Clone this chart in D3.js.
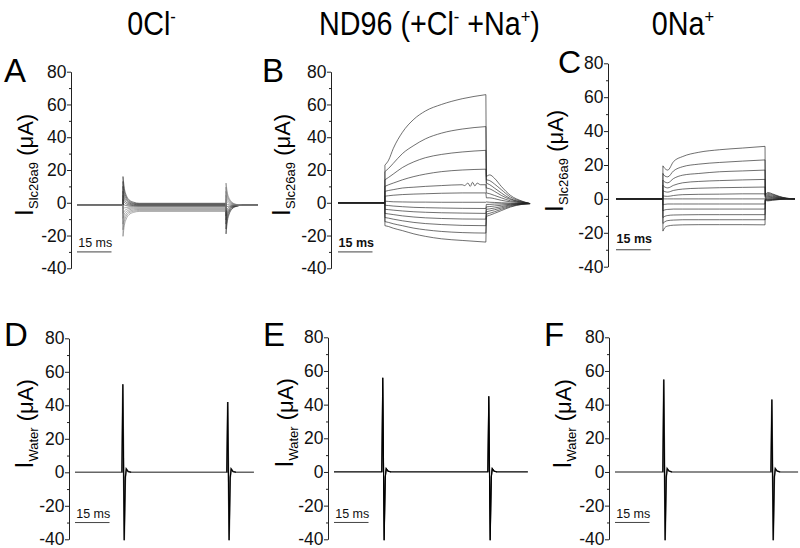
<!DOCTYPE html>
<html><head><meta charset="utf-8">
<script src="https://cdn.jsdelivr.net/npm/d3@7"></script>
<style>
body{margin:0;background:#fff}
svg{display:block}
text{font-family:"Liberation Sans",Arial,Helvetica,sans-serif}
</style>
</head><body>
<svg id="c" width="800" height="548"></svg>
<script>
// ---------------- DATA ----------------
const panelIds = ["A","B","C","D","E","F"];
const columnTitles = [
  [{t:"0Cl"},{t:"-",sup:true}],
  [{t:"ND96 (+Cl"},{t:"-",sup:true},{t:" +Na"},{t:"+",sup:true},{t:")"}],
  [{t:"0Na"},{t:"+",sup:true}]
];
const yLabelMain = "I";
const yLabelSubs = ["Slc26a9","Slc26a9","Slc26a9","Water","Water","Water"];
const yLabelUnit = " (\u03BCA)";
const yTickValues = [-40,-20,0,20,40,60,80];
const yMinorTickValues = [-30,-10,10,30,50,70];
const yDomain = [-40, 80];
const scaleBarMs = 15;
const scaleBarLevel = -30;
const scaleBarLabel = "15 ms";
// sweep protocol per panel (ms)
const sweepDuration = [78.7, 83.5, 77.8, 77.8, 84.3, 79.6];
const stepOnTime    = [20.0, 20.4, 20.4, 20.9, 21.3, 21.3];
const stepOffTime   = [64.8, 64.3, 64.8, 66.5, 67.4, 68.3];

// Panel A (0Cl-): capacitive transients, µA
const aHolding = -1.5;
const aDecayRelT = [0, 0.6, 1.4, 2.6, 4.5, 7];
const aOnDecay = [
  [16, 8.7, 4.6, 1.8, 0.4, -0.3],
  [13, 6.9, 3.5, 1.2, -0.1, -0.6],
  [10, 5.1, 2.4, 0.5, -0.5, -0.9],
  [7, 3.3, 1.3, -0.1, -0.9, -1.2],
  [4.5, 1.8, 0.3, -0.7, -1.3, -1.5],
  [2, 0.3, -0.7, -1.3, -1.7, -1.8],
  [-0.5, -1.3, -1.7, -2.0, -2.1, -2.2],
  [-3.5, -3.1, -2.9, -2.7, -2.6, -2.6],
  [-6.5, -5.0, -4.1, -3.5, -3.2, -3.1],
  [-9.5, -6.8, -5.4, -4.4, -3.8, -3.6],
  [-13, -9.0, -6.8, -5.3, -4.5, -4.1],
  [-16.5, -11.2, -8.2, -6.2, -5.2, -4.7],
  [-20.5, -13.7, -9.9, -7.3, -5.9, -5.3]
];
const aOffDecay = [
  [-19, -11.1, -6.8, -3.8, -2.2, -1.5],
  [-16, -9.5, -5.9, -3.4, -2.1, -1.5],
  [-13, -7.8, -5.0, -3.0, -2.0, -1.5],
  [-10.5, -6.5, -4.2, -2.7, -1.9, -1.5],
  [-8, -5.1, -3.5, -2.3, -1.8, -1.5],
  [-5.5, -3.7, -2.7, -2.0, -1.7, -1.5],
  [-3, -2.3, -2.0, -1.7, -1.6, -1.5],
  [-0.5, -1.0, -1.2, -1.4, -1.5, -1.5],
  [2, 0.4, -0.5, -1.0, -1.4, -1.5],
  [4.5, 1.8, 0.3, -0.7, -1.3, -1.5],
  [7, 3.2, 1.1, -0.4, -1.2, -1.5],
  [9.5, 4.6, 1.8, -0.1, -1.1, -1.5],
  [12, 5.9, 2.6, 0.3, -1.0, -1.5]
];

// Panel B (ND96)
const bPulseRelT = [0, 1.6, 3.6, 7.6, 12.6, 17.6, 24.6, 33.6, 43.9];
const bPulse = [
  [23, 26, 33, 43, 51, 56, 60, 63.5, 66],
  [19, 21, 24, 30, 35, 39, 42.5, 45, 46.5],
  [14, 15.5, 17.5, 21.5, 25, 27.5, 29.5, 31, 32],
  [10, 11, 12, 14, 16, 17.5, 19, 20, 20.5],
  [7, 7.5, 8, 9, 9.5, 10, 10.5, 11, 11],
  [4, 4.3, 4.6, 5, 5.3, 5.5, 5.8, 6, 6],
  [1, 0.8, 0.6, 0.5, 0.4, 0.4, 0.3, 0.3, 0.3],
  [-1.5, -1.7, -2, -2.4, -2.8, -3, -3.2, -3.4, -3.5],
  [-4, -4.2, -4.5, -5, -5.5, -5.8, -6.1, -6.3, -6.5],
  [-6.5, -6.8, -7.2, -8, -8.7, -9.2, -9.6, -9.9, -10],
  [-9, -9.4, -10, -11, -12, -12.7, -13.3, -13.8, -14],
  [-11.5, -12, -12.8, -14, -15.5, -16.5, -17.5, -18.2, -18.5],
  [-14, -14.5, -15.5, -17, -19, -20.5, -22, -23, -24]
];
const bNoiseTrace = 4;
const bNoiseRelT = [34.6, 36.1, 37.1, 38.1, 39.1, 40.1, 41.6];
const bNoiseV = [10.5, 12, 10, 12.5, 10.3, 12, 11];
const bTailRelT = [0.2, 1.7, 3.7, 6.7, 10.7, 15.7, 19.2];
const bTail = [
  [16, 17, 15, 10, 4.5, 1, -0.5],
  [14, 13.5, 11.5, 8, 3.5, 0.8, -0.5],
  [12, 11, 9, 6, 2.5, 0.5, -0.5],
  [9, 8.5, 7, 4.5, 2, 0.3, -0.5],
  [6, 5.5, 4.5, 3, 1.2, 0.2, -0.5],
  [3, 3, 2.5, 1.5, 0.6, 0, -0.5],
  [0.5, 0.3, 0.2, 0, -0.2, -0.4, -0.5],
  [-1, -1, -0.8, -0.7, -0.6, -0.5, -0.5],
  [-2.5, -2.3, -2, -1.5, -0.9, -0.6, -0.5],
  [-4, -3.7, -3.2, -2.4, -1.3, -0.7, -0.5],
  [-5.5, -5, -4.3, -3.2, -1.7, -0.8, -0.5],
  [-7, -6.4, -5.5, -4, -2.2, -0.9, -0.5],
  [-8.3, -7.6, -6.5, -4.8, -2.6, -1, -0.5]
];

// Panel C (0Na+)
const cPulseRelT = [0, 0.8, 2.1, 4.6, 8.6, 15.6, 24.6, 34.6, 44.4];
const cPulse = [
  [19.5, 18, 17, 22, 25, 27.5, 29, 30, 31],
  [15, 13.5, 13, 16.5, 19, 20.5, 21.5, 22.3, 23],
  [11, 10, 9.5, 12, 14, 15, 16, 16.5, 17],
  [8, 7, 6.5, 8, 9.5, 10.3, 10.8, 11.2, 11.5],
  [5, 4.3, 4, 5, 5.8, 6.3, 6.6, 6.8, 7],
  [2, 1.6, 1.5, 2, 2.5, 2.7, 2.8, 3, 3],
  [0, 0, 0, 0, 0, 0, 0, 0, 0],
  [-3.5, -3.2, -3, -3, -3, -3, -3, -3, -3],
  [-7, -6.5, -6.2, -6, -6, -6, -6, -6, -6],
  [-11, -10.3, -9.8, -9.5, -9.4, -9.3, -9.3, -9.3, -9.3],
  [-14.5, -13.5, -12.8, -12.5, -12.3, -12.3, -12.3, -12.3, -12.3],
  [-19, -17, -16, -15.5, -15.3, -15.2, -15.2, -15.2, -15.3]
];
const cTailRelT = [0.1, 1.2, 3.2, 6.2, 9.2, 13];
const cTail = [
  [2.5, 3.8, 3, 1.5, 0.5, 0],
  [2.2, 3.2, 2.6, 1.3, 0.4, 0],
  [1.8, 2.6, 2.1, 1.1, 0.3, 0],
  [1.4, 2, 1.6, 0.8, 0.3, 0],
  [1, 1.5, 1.2, 0.6, 0.2, 0],
  [0.6, 1, 0.8, 0.4, 0.1, 0],
  [0.3, 0.5, 0.4, 0.2, 0.1, 0],
  [0, 0, 0, 0, 0, 0],
  [-0.2, -0.3, -0.2, -0.1, 0, 0],
  [-0.4, -0.6, -0.4, -0.2, -0.1, 0],
  [-0.6, -0.9, -0.6, -0.3, -0.1, 0],
  [-0.8, -1.2, -0.8, -0.4, -0.1, 0]
];

// Panels D-F (water-injected): transient spikes at the steps
const spikeRelT = [-0.5, -0.1, 0.5, 1.0, 1.4, 2.2, 3.5];
const waterOnSpike = [
  [0, 52.5, -40.5, -3, 2, 0.5, 0],
  [0, 56, -40.5, -3, 2, 0.5, 0],
  [0, 55, -40.5, -3, 2, 0.5, 0]
];
const waterOffSpike = [
  [0, 42, -40.5, -3, 2, 0.5, 0],
  [0, 45, -40.5, -3, 2, 0.5, 0],
  [0, 43, -40.5, -3, 2, 0.5, 0]
];

// ---------------- LAYOUT / STYLE ----------------
const pxPerMs = 2.3;
const layout = [
  {axisX:71,  yTop:71.7,  yBot:268.3, x0:77,  letter:[4,82],   lfs:33, lab:[33,165],  barBold:false},
  {axisX:331, yTop:71.7,  yBot:268.3, x0:338, letter:[262,82], lfs:33, lab:[290,165], barBold:true},
  {axisX:608, yTop:63.3,  yBot:266.7, x0:616, letter:[558,73], lfs:32, lab:[563,161], barBold:true},
  {axisX:69,  yTop:338.3, yBot:539.3, x0:75,  letter:[4,346],  lfs:33, lab:[33,424],  barBold:false},
  {axisX:328, yTop:337.3, yBot:539.3, x0:334, letter:[263,346],lfs:33, lab:[293,423], barBold:false},
  {axisX:609, yTop:337.3, yBot:539.3, x0:615, letter:[544,346],lfs:33, lab:[571,424], barBold:false}
];
const titleX = [151.5, 429.5, 683], titleY = 35;

const svg = d3.select("#c");

// titles
columnTitles.forEach((parts, i) => {
  const t = svg.append("text")
    .attr("transform", `translate(${titleX[i]},${titleY}) scale(0.87,1)`)
    .attr("text-anchor", "middle").attr("font-size", 33).attr("fill", "#000");
  let up = false;
  parts.forEach(p => {
    const ts = t.append("tspan").text(p.t);
    if (p.sup) { ts.attr("font-size", 19).attr("dy", -12); up = true; }
    else if (up) { ts.attr("dy", 12); up = false; }
  });
});

function pathFromSegments(x, y, segs) {
  let d = "";
  segs.forEach((s, k) => {
    const ln = d3.line().x(p => x(p[0])).y(p => y(p[1])).curve(s.curve);
    const part = ln(s.pts);
    d += k === 0 ? part : part.replace(/^M/, "L");
  });
  return d;
}

panelIds.forEach((id, i) => {
  const L = layout[i];
  const dur = sweepDuration[i], tOn = stepOnTime[i], tOff = stepOffTime[i];
  const x = d3.scaleLinear().domain([0, dur]).range([L.x0, L.x0 + dur * pxPerMs]);
  const y = d3.scaleLinear().domain(yDomain).range([L.yBot, L.yTop]);
  const g = svg.append("g");

  // axis
  const ax = g.append("g").attr("transform", `translate(${L.axisX},0)`)
    .call(d3.axisLeft(y).tickValues(yTickValues).tickSize(4).tickSizeOuter(0).tickPadding(0.5).tickFormat(d => String(d)));
  ax.selectAll("text").attr("font-size", 17.5).attr("fill", "#111")
    .attr("font-family", "'Liberation Sans',Arial,sans-serif");
  ax.select(".domain").attr("stroke", "#222");
  ax.selectAll(".tick line").attr("stroke", "#222");
  const mi = g.append("g").attr("transform", `translate(${L.axisX},0)`)
    .call(d3.axisLeft(y).tickValues(yMinorTickValues).tickSize(2).tickSizeOuter(0).tickFormat(""));
  mi.select(".domain").remove();
  mi.selectAll(".tick line").attr("stroke", "#222");

  // panel letter
  svg.append("text").attr("x", L.letter[0]).attr("y", L.letter[1])
    .attr("font-size", L.lfs).attr("fill", "#000").text(id);

  // y label
  const yl = svg.append("text")
    .attr("transform", `translate(${L.lab[0]},${L.lab[1]}) rotate(-90)`)
    .attr("text-anchor", "middle").attr("fill", "#000");
  yl.append("tspan").attr("font-size", 26).text(yLabelMain);
  yl.append("tspan").attr("font-size", 13).attr("dy", 5).text(yLabelSubs[i]);
  yl.append("tspan").attr("font-size", 22).attr("dy", -5).text(yLabelUnit);

  // scale bar
  const by = y(scaleBarLevel);
  g.append("line").attr("x1", x(0)).attr("x2", x(scaleBarMs)).attr("y1", by).attr("y2", by)
    .attr("stroke", "#444").attr("stroke-width", 1);
  g.append("text").attr("x", (x(0) + x(scaleBarMs)) / 2 + 1).attr("y", by - (i === 2 ? 7 : 4.5))
    .attr("text-anchor", "middle").attr("font-size", 12.5)
    .attr("font-weight", L.barBold ? "bold" : "normal").attr("fill", "#111").text(scaleBarLabel);

  const traces = g.append("g").attr("fill", "none");
  const lin = d3.curveLinear, mono = d3.curveMonotoneX;

  if (i === 0) {
    aOnDecay.forEach((on, k) => {
      const off = aOffDecay[k];
      const s = on[on.length - 1];
      const segs = [
        {curve: lin, pts: [[0, aHolding], [tOn, aHolding], [tOn, on[0]]]},
        {curve: mono, pts: on.map((v, j) => [tOn + aDecayRelT[j], v]).concat([[tOff, s]])},
        {curve: lin, pts: [[tOff, s], [tOff, off[0]]]},
        {curve: mono, pts: off.map((v, j) => [tOff + aDecayRelT[j], v]).concat([[dur, aHolding]])}
      ];
      traces.append("path").attr("d", pathFromSegments(x, y, segs))
        .attr("stroke", k < 7 ? "#333" : "#777").attr("stroke-width", 0.6);
    });
  } else if (i === 1) {
    bPulse.forEach((P, k) => {
      let pulsePts = P.map((v, j) => [tOn + bPulseRelT[j], v]);
      if (k === bNoiseTrace) {
        const last = pulsePts.pop();
        bNoiseRelT.forEach((t, j) => pulsePts.push([tOn + t, bNoiseV[j]]));
        pulsePts.push(last);
      }
      const T = bTail[k];
      const segs = [
        {curve: lin, pts: [[0, 0], [tOn, 0], [tOn, P[0]]]},
        {curve: mono, pts: pulsePts},
        {curve: lin, pts: [[tOff, P[P.length - 1]], [tOff + bTailRelT[0], T[0]]]},
        {curve: mono, pts: T.map((v, j) => [tOff + bTailRelT[j], v])}
      ];
      traces.append("path").attr("d", pathFromSegments(x, y, segs))
        .attr("stroke", "#222").attr("stroke-width", 0.65);
    });
  } else if (i === 2) {
    cPulse.forEach((P, k) => {
      const T = cTail[k];
      const segs = [
        {curve: lin, pts: [[0, 0], [tOn, 0], [tOn, P[0]]]},
        {curve: mono, pts: P.map((v, j) => [tOn + cPulseRelT[j], v])},
        {curve: lin, pts: [[tOff, P[P.length - 1]], [tOff + cTailRelT[0], T[0]]]},
        {curve: mono, pts: T.map((v, j) => [tOff + cTailRelT[j], v])}
      ];
      traces.append("path").attr("d", pathFromSegments(x, y, segs))
        .attr("stroke", "#222").attr("stroke-width", 0.65);
    });
  } else {
    const w = i - 3;
    const pts = [[0, 0]]
      .concat(spikeRelT.map((t, j) => [tOn + t, waterOnSpike[w][j]]))
      .concat(spikeRelT.map((t, j) => [tOff + t, waterOffSpike[w][j]]))
      .concat([[dur, 0]]);
    const base = d3.line().x(p => x(p[0])).y(p => y(p[1]));
    traces.append("path").attr("d", base(pts))
      .attr("stroke", w === 1 ? "#000" : "#666").attr("stroke-width", w === 1 ? 1.2 : 1.6);
    [[tOn, waterOnSpike[w]], [tOff, waterOffSpike[w]]].forEach(([t0, vals]) => {
      traces.append("path").attr("d", base(spikeRelT.map((t, j) => [t0 + t, vals[j]])))
        .attr("stroke", "#000").attr("stroke-width", 1.1);
    });
  }
});
</script>
</body></html>
